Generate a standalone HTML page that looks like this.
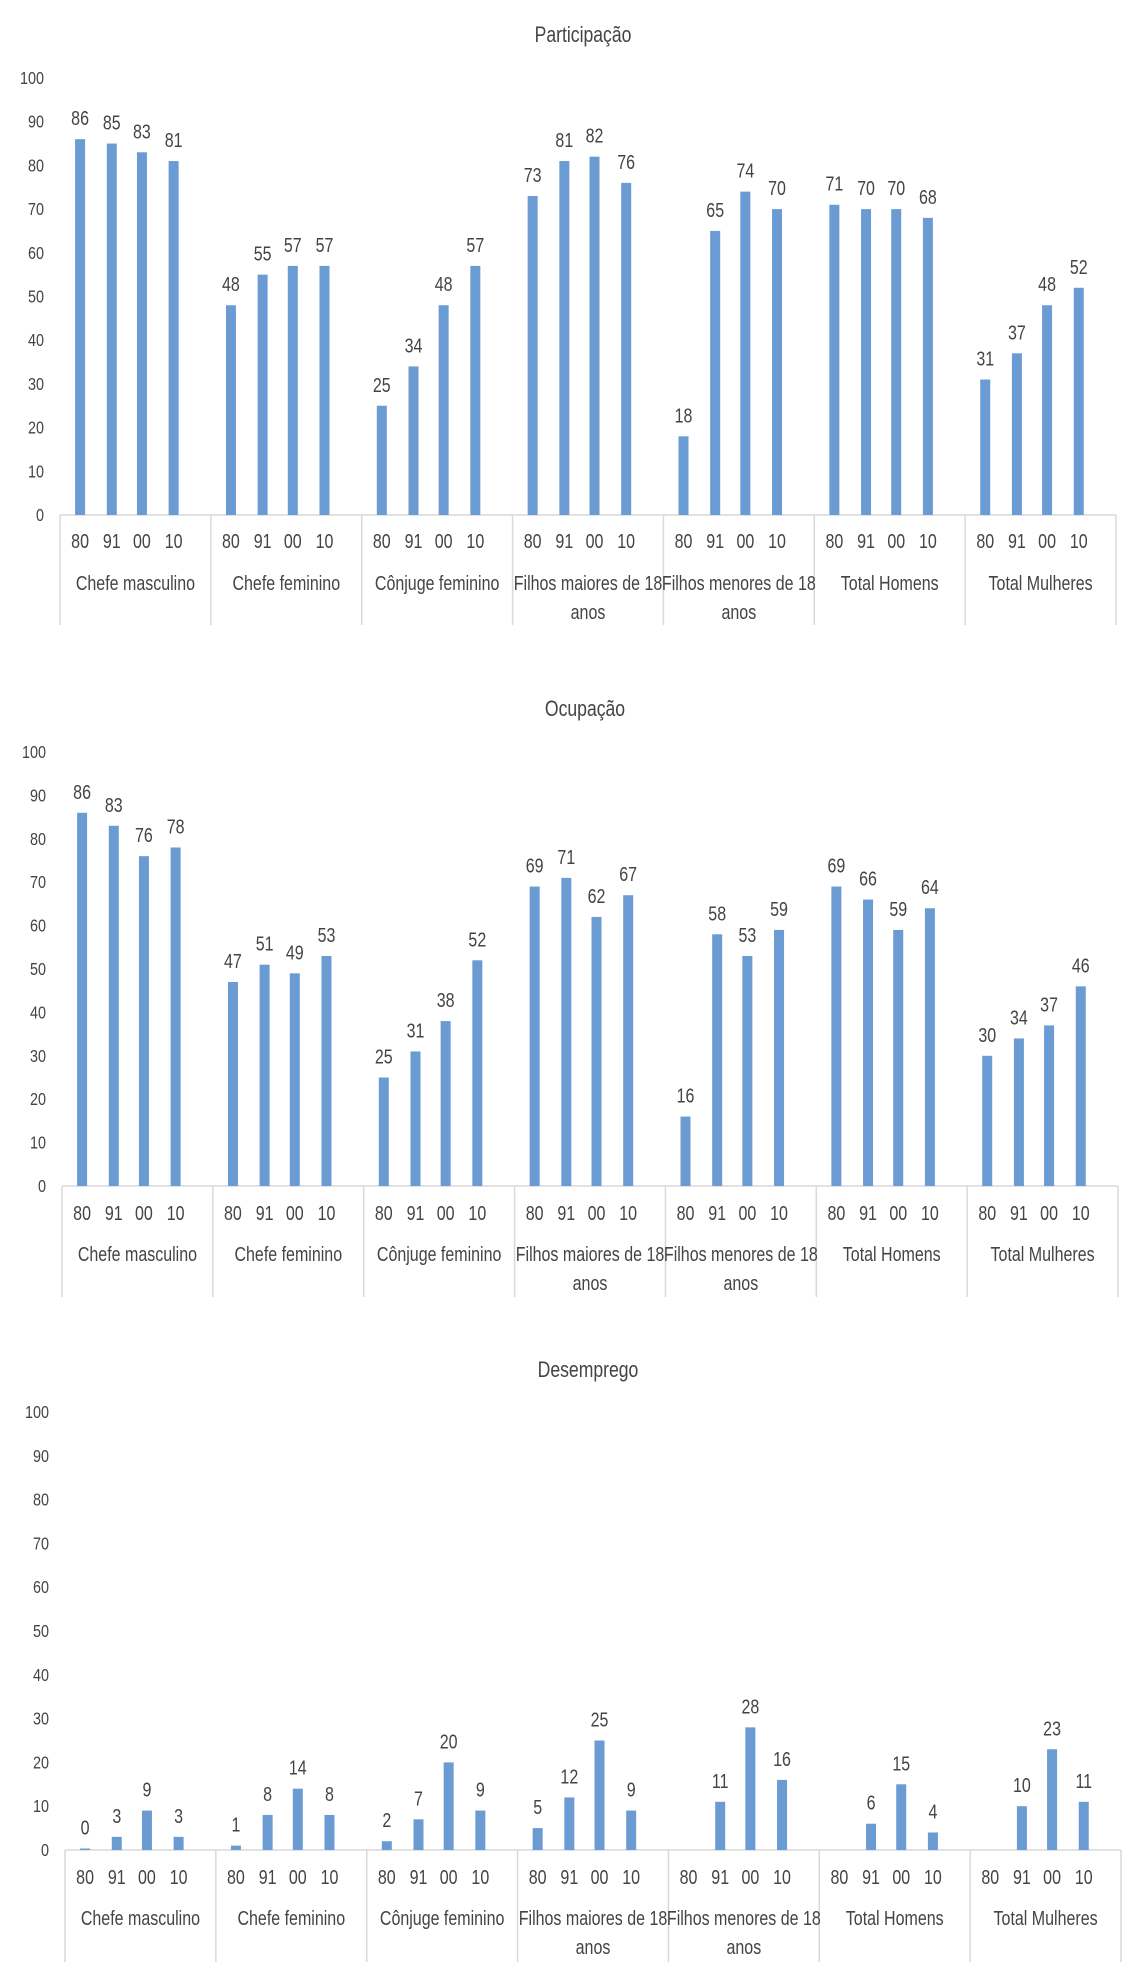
<!DOCTYPE html>
<html><head><meta charset="utf-8">
<style>
html,body{margin:0;padding:0;background:#fff;}
svg{display:block;}
text{font-family:"Liberation Sans",sans-serif;fill:#444;}
</style></head>
<body>
<svg id="chart" width="1136" height="1978" viewBox="0 0 1136 1978" xmlns="http://www.w3.org/2000/svg"></svg>
<script>
const categories = ["Chefe masculino","Chefe feminino","Cônjuge feminino","Filhos maiores de 18|anos","Filhos menores de 18|anos","Total Homens","Total Mulheres"];
const years = ["80","91","00","10"];
const yTicks = [0,10,20,30,40,50,60,70,80,90,100];
const titles = ["Participação","Ocupação","Desemprego"];
const participacao = [86,85,83,81, 48,55,57,57, 25,34,48,57, 73,81,82,76, 18,65,74,70, 71,70,70,68, 31,37,48,52];
const ocupacao = [86,83,76,78, 47,51,49,53, 25,31,38,52, 69,71,62,67, 16,58,53,59, 69,66,59,64, 30,34,37,46];
const desemprego = [0,3,9,3, 1,8,14,8, 2,7,20,9, 5,12,25,9, null,11,28,16, null,6,15,4, null,10,23,11];
const seriesList = [participacao, ocupacao, desemprego];

const layouts = [
  {titleY:35, top:78, base:515, left:60, right:1116, tickY:541, catY:583, sepEnd:625},
  {titleY:709, top:752, base:1186, left:62, right:1118, tickY:1213, catY:1254, sepEnd:1297},
  {titleY:1370, top:1412, base:1850, left:65, right:1121, tickY:1877, catY:1918, sepEnd:1962}
];
const NS="http://www.w3.org/2000/svg";
const svg=document.getElementById('chart');
function mk(tag,attrs,parent){const e=document.createElementNS(NS,tag);for(const k in attrs)e.setAttribute(k,attrs[k]);(parent||svg).appendChild(e);return e;}
function txt(x,y,anchor,size,str,parent){
  const e=mk('text',{x:0,y:0,'text-anchor':anchor,'font-size':size,transform:'translate('+x+','+y+') scale(0.8,1)'},parent);
  e.textContent=str;return e;
}
const barOffsets=[0.1,0.31,0.51,0.72];

layouts.forEach((L,ci)=>{
  const data=seriesList[ci];
  const g=mk('g',{});
  
  
  const yScale=v=>L.base-(v/100)*(L.base-L.top);
  const gw=(L.right-L.left)/categories.length;
  const xBand=(c,y)=>L.left+gw*c+gw*barOffsets[y]+5;
  const t=txt((L.left+L.right)/2-5,L.titleY+7,'middle',22,titles[ci],g);
  
  
  yTicks.forEach(v=>{
    const tt=txt(L.left-16,yScale(v)+6,'end',18,String(v),g);
    
    
  });
  const ax=mk('line',{x1:L.left,x2:L.right,y1:L.base,y2:L.base,stroke:'#d9d9d9','stroke-width':1.5},g);
  
  
  for(let c=0;c<=categories.length;c++){
    const x=L.left+gw*c;
    const s=mk('line',{x1:x,x2:x,y1:L.base,y2:L.sepEnd,stroke:'#d9d9d9','stroke-width':1.5},g);
    
    
  }
  categories.forEach((cat,c)=>{
    const lines=cat.split('|');
    lines.forEach((ln,li)=>{
      const ct=txt(L.left+gw*c+gw/2,L.catY+7+li*29,'middle',20,ln,g);
      
      
    });
    years.forEach((yr,y)=>{
      const cx=xBand(c,y);
      const yt=txt(cx,L.tickY+7,'middle',20,yr,g);
      
      
      const v=data[c*4+y];
      if(v===null)return;
      const top=yScale(v);
      const h=Math.max(L.base-top,1.5);
      const b=mk('rect',{x:cx-5,y:L.base-h,width:10,height:h,fill:'#6a9bd2'},g);
      
      
      const vl=txt(cx,L.base-h-14,'middle',20,String(v),g);
      
      
    });
  });
});
</script>
</body></html>
